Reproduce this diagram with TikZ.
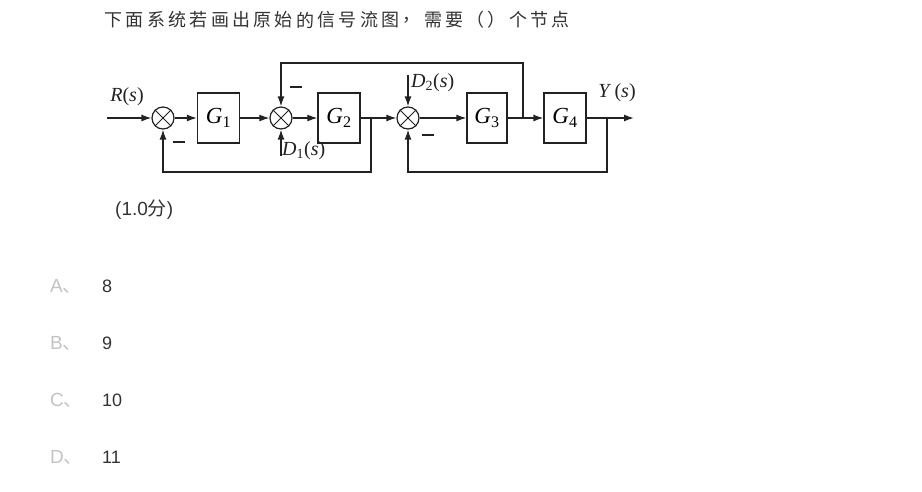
\documentclass[tikz,border=0pt]{standalone}
\usepackage{fontspec}
\setmainfont{Liberation Serif}
\newfontfamily\cjkfont{Noto Sans CJK SC}
\newfontfamily\uifont{Liberation Sans}
\usetikzlibrary{arrows.meta}
\definecolor{ink}{HTML}{222222}
\definecolor{txt}{HTML}{333333}
\definecolor{pale}{HTML}{C4C4C4}
\tikzset{
  wire/.style={draw=ink, line width=1.4pt},
  arr/.style={wire, -{Latex[length=10pt,width=7pt]}},
  blockbox/.style={draw=ink, line width=1.2pt, minimum width=42pt, minimum height=50pt, inner sep=0pt, font=\fontsize{23}{25}\selectfont\itshape},
  sumnode/.style={circle, draw=ink, line width=1.2pt, minimum size=22pt, inner sep=0pt},
  lab/.style={font=\fontsize{20}{22}\selectfont, text=ink, inner sep=0pt},
  minus/.style={draw=ink, line width=1.3pt},
  optletter/.style={font=\uifont\fontsize{19}{20}\selectfont, text=pale, anchor=west, inner sep=0pt},
  optvalue/.style={font=\uifont\fontsize{18}{20}\selectfont, text=txt, anchor=west, inner sep=0pt},
}
\newcommand{\crosssum}[1]{%
  \draw[ink, line width=1pt] (#1.north east) -- (#1.south west)
                              (#1.north west) -- (#1.south east);}
\begin{document}
\begin{tikzpicture}[x=1pt,y=-1pt]
\useasboundingbox[fill=white] (0,0) rectangle (922,491);

% question text, one character per fixed pitch
\foreach \ch [count=\i from 0] in {下,面,系,统,若,画,出,原,始,的,信,号,流,图,，,需,要,（,）,个,节,点}
  \node[font=\cjkfont\fontsize{18}{19}\selectfont, text=txt, inner sep=0pt]
    (q\i) at ({105+\i*21.3+8.5},20) {\ch};

% blocks and summing junctions
\node[sumnode] (s1) at (163,118) {};
\node[blockbox] (G1) at (218.5,118) {G\textsubscript{\upshape 1}};
\node[sumnode] (s2) at (281,118) {};
\node[blockbox] (G2) at (339,118) {G\textsubscript{\upshape 2}};
\node[sumnode] (s3) at (408,118) {};
\node[blockbox, minimum width=40pt] (G3) at (487,118) {G\textsubscript{\upshape 3}};
\node[blockbox] (G4) at (565,118) {G\textsubscript{\upshape 4}};
\crosssum{s1}
\crosssum{s2}
\crosssum{s3}

% connection points
\coordinate (in) at (107,118);
\coordinate (out) at (634,118);
\coordinate (b1) at (371,118);
\coordinate (f1) at (371,172);
\coordinate (b3) at (523,118);
\coordinate (t3) at (523,63);
\coordinate (b4) at (607,118);
\coordinate (f4) at (607,172);
\coordinate (d1) at (281,156);
\coordinate (d2) at (408,75);

% forward path
\draw[arr] (in) -- (s1.west);
\draw[arr] (s1.east) -- (G1.west);
\draw[arr] (G1.east) -- (s2.west);
\draw[arr] (s2.east) -- (G2.west);
\draw[arr] (G2.east) -- (s3.west);
\draw[arr] (s3.east) -- (G3.west);
\draw[arr] (G3.east) -- (G4.west);
\draw[arr] (G4.east) -- (out);

% feedback paths and disturbances
\draw[arr] (b1) -- (f1) -| (s1.south);
\draw[arr] (b3) -- (t3) -| (s2.north);
\draw[arr] (b4) -- (f4) -| (s3.south);
\draw[arr] (d1) -- (s2.south);
\draw[arr] (d2) -- (s3.north);

% negative signs at the summing junctions
\draw[minus] (173,142) coordinate (m1) -- (185,142);
\draw[minus] (290,87) coordinate (m2) -- (302,87);
\draw[minus] (422,135) coordinate (m3) -- (434,135);

% signal labels
\node[lab] (lr) at (127,97) {\textit{R}(\textit{s})};
\node[lab, anchor=west] (ld1) at (282,151) {\textit{D}\textsubscript{1}(\textit{s})};
\node[lab, anchor=west] (ld2) at (411,83) {\textit{D}\textsubscript{2}(\textit{s})};
\node[lab] (ly) at (617,93) {\textit{Y}\,(\textit{s})};

% score and answer choices
\node[font=\uifont\fontsize{19}{20}\selectfont, text=txt, anchor=west, inner sep=0pt]
  (score) at (115,210) {(1.0{\cjkfont 分})};
\node[optletter] (oa) at (50,286) {A{\cjkfont 、}};
\node[optvalue] (va) at (102,286) {8};
\node[optletter] (ob) at (50,343) {B{\cjkfont 、}};
\node[optvalue] (vb) at (102,343) {9};
\node[optletter] (oc) at (50,400) {C{\cjkfont 、}};
\node[optvalue] (vc) at (102,400) {10};
\node[optletter] (od) at (50,457) {D{\cjkfont 、}};
\node[optvalue] (vd) at (102,457) {11};
\end{tikzpicture}
\end{document}
